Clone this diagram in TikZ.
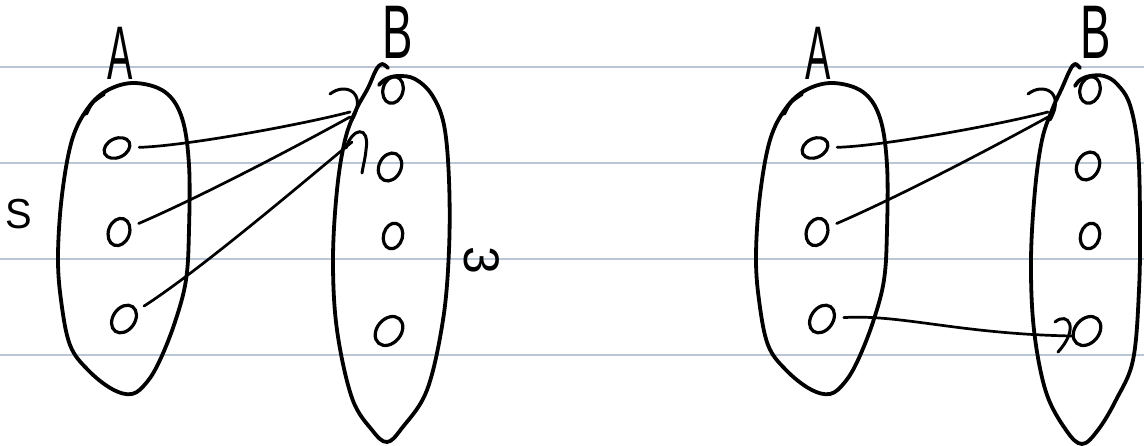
\documentclass[tikz,border=0pt]{standalone}
\usepackage{fontspec}
\setmainfont{Liberation Sans}
\usetikzlibrary{shapes.geometric}
\definecolor{ruleblue}{RGB}{186,198,216}
\begin{document}
\begin{tikzpicture}[x=1pt,y=-1pt,
  rule/.style={draw=ruleblue,line width=2pt},
  outline/.style={draw=black,line width=3.8pt,line cap=round,line join=round},
  elem/.style={draw=black,ellipse,line width=3.2pt,inner sep=0pt},
  conn/.style={draw=black,line width=2.7pt,line cap=round,shorten <=8pt},
  hookstroke/.style={draw=black,line width=3pt,line cap=round},
  lbl/.style={font=\fontsize{76}{76}\selectfont,inner sep=0pt}]
\useasboundingbox (0,0) rectangle (1144,446);
\clip (0,0) rectangle (1144,446);
% ruled lines
\foreach \yy in {67,163,259,355} \draw[rule] (0,\yy) -- (1144,\yy);

% ================= LEFT DIAGRAM =================
\node[lbl,xscale=0.5] (labA) at (120,53) {A};
\node[lbl,xscale=0.6] (labB) at (398,32) {B};
\node[font=\fontsize{42}{42}\selectfont,inner sep=0pt,xscale=0.95] (labS) at (19,214) {S};
\node[font=\fontsize{50}{50}\selectfont,inner sep=0pt,rotate=-90] (labm) at (482,260) {3};

% set A
\draw[outline] plot[smooth cycle,tension=0.6] coordinates {(135,83) (165,92) (182,118) (189,165) (189,230) (186,280) (175,322) (160,360) (147,382) (132,394) (112,389) (88,370) (70,345) (61,300) (58,255) (62,195) (72,140) (88,108) (108,90)};
\draw[outline] (86,114) .. controls (92,102) .. (104,94);
% set B
\draw[outline] plot[smooth,tension=0.6] coordinates {(388,68) (382,64) (376,70) (368,88) (356,110) (345,140) (337,190) (333,260) (337,330) (352,398) (372,430) (387,442) (402,428) (427,390) (443,320) (449,250) (449,180) (444,125) (432,95) (415,79) (398,76) (386,79) (379,85)};

% elements
\node[elem,minimum width=27pt,minimum height=19pt,rotate=25] (a1) at (117,148) {};
\node[elem,minimum width=21pt,minimum height=28pt,rotate=-20] (a2) at (119,232) {};
\node[elem,minimum width=22pt,minimum height=30pt,rotate=-35] (a3) at (124,319) {};
\node[elem,minimum width=20pt,minimum height=27pt,rotate=-15] (b1) at (393,90) {};
\node[elem,minimum width=22pt,minimum height=29pt,rotate=-25] (b2) at (390,167) {};
\node[elem,minimum width=19pt,minimum height=26pt,rotate=-15] (b3) at (393,236) {};
\node[elem,minimum width=24pt,minimum height=32pt,rotate=-40] (b4) at (389,331) {};

% connectors
\coordinate (t1) at (350,112);
\coordinate (t2) at (350,117);
\coordinate (t3) at (352,142);
\draw[conn] (a1) .. controls (185,146) and (300,125) .. (t1);
\draw[conn] (a2) .. controls (200,197) and (290,150) .. (t2);
\draw[conn] (a3) .. controls (200,270) and (300,185) .. (t3);
% hand-drawn heads
\draw[hookstroke] (330,94) .. controls (345,82) and (368,92) .. (352,120);
\draw[hookstroke] (346,148) .. controls (352,128) and (370,124) .. (366,150) .. controls (365,160) and (363,166) .. (362,173);

% ================= RIGHT DIAGRAM =================
\begin{scope}[xshift=698pt]
\node[lbl,xscale=0.5] (rlabA) at (120,53) {A};
\draw[outline] plot[smooth cycle,tension=0.6] coordinates {(135,83) (165,92) (182,118) (189,165) (189,230) (186,280) (175,322) (160,360) (147,382) (132,394) (112,389) (88,370) (70,345) (61,300) (58,255) (62,195) (72,140) (88,108) (108,90)};
\draw[outline] (86,114) .. controls (92,102) .. (104,94);
\node[elem,minimum width=27pt,minimum height=19pt,rotate=25] (ra1) at (117,148) {};
\node[elem,minimum width=21pt,minimum height=28pt,rotate=-20] (ra2) at (119,232) {};
\node[elem,minimum width=22pt,minimum height=30pt,rotate=-35] (ra3) at (124,319) {};
\end{scope}
\node[lbl,xscale=0.6] (rlabB) at (1096,32) {B};
\draw[outline] plot[smooth,tension=0.6] coordinates {(1080,68) (1075,64) (1070,70) (1062,88) (1052,110) (1042,140) (1035,190) (1031,260) (1034,330) (1046,392) (1066,430) (1082,444) (1098,430) (1116,400) (1133,360) (1139,290) (1140,220) (1138,150) (1130,105) (1117,84) (1104,76) (1090,76) (1080,80) (1075,86)};
\node[elem,minimum width=20pt,minimum height=27pt,rotate=-15] (rb1) at (1090,90) {};
\node[elem,minimum width=22pt,minimum height=29pt,rotate=-25] (rb2) at (1088,166) {};
\node[elem,minimum width=19pt,minimum height=26pt,rotate=-15] (rb3) at (1090,236) {};
\node[elem,minimum width=24pt,minimum height=32pt,rotate=-40] (rb4) at (1087,331) {};

\coordinate (rt1) at (1048,112);
\coordinate (rt2) at (1048,117);
\coordinate (rt3) at (1072,336);
\draw[conn] (ra1) .. controls (883,146) and (998,125) .. (rt1);
\draw[conn] (ra2) .. controls (898,197) and (988,150) .. (rt2);
\draw[conn] (ra3) .. controls (900,314) and (960,334) .. (rt3);
\draw[hookstroke] (1028,94) .. controls (1043,82) and (1066,92) .. (1050,120);
\draw[hookstroke] (1055,322) .. controls (1068,311) and (1080,328) .. (1058,352);
\end{tikzpicture}
\end{document}
